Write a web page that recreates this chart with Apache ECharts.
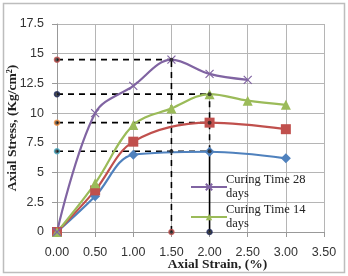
<!DOCTYPE html>
<html><head><meta charset="utf-8">
<script src="https://cdn.jsdelivr.net/npm/echarts@6/dist/echarts.min.js"></script>
<style>html,body{margin:0;padding:0;background:#fff}#c{width:348px;height:276px}</style>
</head><body><div id="c"></div>
<script>
// Data
const strain28 = [0, 0.5, 1.0, 1.5, 2.0, 2.5];
const stress28 = [0, 10.0, 12.3, 14.5, 13.3, 12.8];
const strain14 = [0, 0.5, 1.0, 1.5, 2.0, 2.5, 3.0];
const stress14 = [0, 4.1, 9.0, 10.4, 11.6, 11.05, 10.7];
const strain7 = [0, 0.5, 1.0, 2.0, 3.0];
const stress7 = [0, 3.5, 7.6, 9.2, 8.65];
const strain3 = [0, 0.5, 1.0, 2.0, 3.0];
const stress3 = [0, 3.0, 6.5, 6.75, 6.2];
const peakStress = [14.5, 11.6, 9.2, 6.8];
const peakStrain = [1.5, 2.0, 2.0, 2.0];
const yTicks = [0, 2.5, 5, 7.5, 10, 12.5, 15, 17.5];
const xTicks = [0, 0.5, 1, 1.5, 2, 2.5, 3, 3.5];
const legendNames = ['Curing Time 28\ndays', 'Curing Time 14\ndays'];

const zip = (a, b) => a.map((v, i) => [v, b[i]]);
const dash = {type: [6, 5], color: '#000', width: 1.6};
const dotColorsY = ['#C0504D', '#1F2A5A', '#F79646', '#4BACC6'];
const dashSeries = [];
peakStress.forEach((s, i) => {
  dashSeries.push({type: 'line', data: [[0, s], [peakStrain[i], s]], symbol: 'none', lineStyle: dash, z: 1, silent: true});
});
dashSeries.push({type: 'line', data: [[1.5, 0], [1.5, 14.5]], symbol: 'none', lineStyle: dash, z: 1});
dashSeries.push({type: 'line', data: [[2.0, 6.8], [2.0, 11.6]], symbol: 'none', lineStyle: dash, z: 1});
dashSeries.push({type: 'line', data: [[2.0, 0], [2.0, 6.8]], symbol: 'none', lineStyle: {color: '#000', width: 1.6}, z: 1});
dashSeries.push({type: 'scatter', z: 6, symbolSize: 5,
  data: peakStress.map((s, i) => ({value: [0, s], itemStyle: {color: '#222', borderColor: dotColorsY[i], borderWidth: 1.5}}))});
dashSeries.push({type: 'scatter', z: 6, symbolSize: 5, data: [
  {value: [1.5, 0], itemStyle: {color: '#222', borderColor: '#C0504D', borderWidth: 1.5}},
  {value: [2.0, 0], itemStyle: {color: '#222', borderColor: '#1F2A5A', borderWidth: 1.5}}]});
dashSeries.push({type: 'scatter', z: 6, symbolSize: 4, data: [
  {value: [1.5, 14.5], itemStyle: {color: '#222'}},
  {value: [2.0, 11.6], itemStyle: {color: '#222'}},
  {value: [2.0, 9.2], itemStyle: {color: '#222'}},
  {value: [2.0, 6.8], itemStyle: {color: '#222'}},
  {value: [1.5, 6.8], itemStyle: {color: '#222'}}]});

const chart = echarts.init(document.getElementById('c'));
chart.setOption({
  animation: false,
  graphic: [{type: 'rect', shape: {x: 3.5, y: 3.5, width: 341, height: 269}, style: {fill: 'none', stroke: '#bdbdbd', lineWidth: 1.5}, z: -1}],
  grid: {left: 57, right: 24, top: 24, bottom: 44, outerBoundsMode: 'none', containLabel: false},
  legend: {
    data: legendNames, orient: 'vertical', left: 188, top: 171, itemWidth: 36, itemHeight: 8, itemGap: 2,
    textStyle: {fontFamily: 'Liberation Serif', fontSize: 12.5, color: '#222', lineHeight: 14, padding: [0, 0, 0, -6]},
    padding: [2, 2, 2, 2]
  },
  xAxis: {
    type: 'value', min: 0, max: 3.5, interval: 0.5,
    name: 'Axial Strain, (%)', nameLocation: 'middle', nameGap: 26, nameMoveOverlap: false,
    nameTextStyle: {fontFamily: 'Liberation Serif', fontWeight: 'bold', fontSize: 13.5, color: '#222', padding: [0, 0, 0, 54]},
    axisLine: {lineStyle: {color: '#999', width: 1}},
    axisTick: {show: true, length: 5, lineStyle: {color: '#999'}},
    axisLabel: {fontFamily: 'Liberation Sans', fontSize: 12.5, color: '#333', margin: 14,
      formatter: v => xTicks.includes(v) ? v.toFixed(2) : ''},
    splitLine: {show: true, lineStyle: {color: '#b5b5b5', width: 1}}
  },
  yAxis: {
    type: 'value', min: 0, max: 17.5, interval: 2.5,
    name: 'Axial Stress, (Kg/cm²)', nameLocation: 'middle', nameGap: 37, nameMoveOverlap: false,
    nameTextStyle: {fontFamily: 'Liberation Serif', fontWeight: 'bold', fontSize: 13.5, color: '#222'},
    axisLine: {show: true, lineStyle: {color: '#999', width: 1}},
    axisTick: {show: true, length: 5, lineStyle: {color: '#999'}},
    axisLabel: {fontFamily: 'Liberation Sans', fontSize: 12.5, color: '#333', margin: 13,
      formatter: v => yTicks.includes(v) ? String(v) : ''},
    splitLine: {show: true, lineStyle: {color: '#b5b5b5', width: 1}}
  },
  series: [
    ...dashSeries,
    {name: 'blue', type: 'line', data: zip(strain3, stress3), smooth: 0.35, symbol: 'diamond', symbolSize: 10,
      lineStyle: {color: '#4F81BD', width: 2.2}, itemStyle: {color: '#4F81BD'}, z: 3},
    {name: 'red', type: 'line', data: zip(strain7, stress7), smooth: 0.35, symbol: 'rect', symbolSize: 10,
      lineStyle: {color: '#C0504D', width: 2.2}, itemStyle: {color: '#C0504D'}, z: 3},
    {name: legendNames[1], type: 'line', data: zip(strain14, stress14), smooth: 0.35, symbol: 'triangle', symbolSize: 10,
      lineStyle: {color: '#9BBB59', width: 2.2}, itemStyle: {color: '#9BBB59'}, z: 3},
    {name: legendNames[0], type: 'line', data: zip(strain28, stress28), smooth: 0.35,
      symbol: 'path://M0,0 L10,10 M10,0 L0,10', symbolSize: 8,
      lineStyle: {color: '#8064A2', width: 2.2}, itemStyle: {color: 'none', borderColor: '#8064A2', borderWidth: 1.2}, z: 3}
  ]
});
</script></body></html>
